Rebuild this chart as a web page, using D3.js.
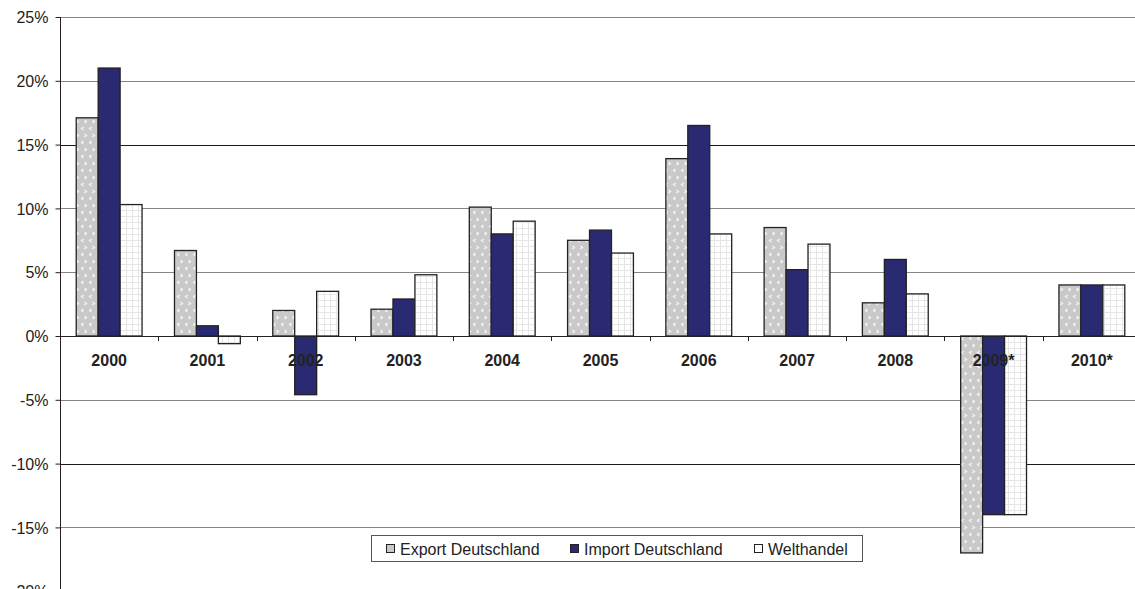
<!DOCTYPE html>
<html><head><meta charset="utf-8">
<script src="https://cdn.jsdelivr.net/npm/d3@7"></script>
<style>html,body{margin:0;padding:0;background:#fff;overflow:hidden}</style>
</head><body>
<svg id="c" width="1135" height="589"></svg>
<script>
const categories = ["2000","2001","2002","2003","2004","2005","2006","2007","2008","2009*","2010*"];
const seriesNames = ["Export Deutschland","Import Deutschland","Welthandel"];
const exportDE = [17.1, 6.7, 2.0, 2.1, 10.1, 7.5, 13.9, 8.5, 2.6, -17.0, 4.0];
const importDE = [21.0, 0.8, -4.6, 2.9, 8.0, 8.3, 16.5, 5.2, 6.0, -14.0, 4.0];
const welthandel = [10.3, -0.6, 3.5, 4.8, 9.0, 6.5, 8.0, 7.2, 3.3, -14.0, 4.0];
const yTicks = [-20,-15,-10,-5,0,5,10,15,20,25];

const series = [exportDE, importDE, welthandel];
const svg = d3.select("#c");
const defs = svg.append("defs");
const FONT = "Liberation Sans, Arial, Helvetica, sans-serif";

// export pattern: light grey with small white chevrons
const p1 = defs.append("pattern").attr("id","pExp").attr("patternUnits","userSpaceOnUse")
  .attr("width",8).attr("height",14);
p1.append("rect").attr("width",8).attr("height",14).attr("fill","#c9c9c9");
p1.append("path").attr("d","M3.5,1 L1.5,2.5 L3.5,4").attr("stroke","#f6f6f6").attr("stroke-width",1.2).attr("fill","none");
p1.append("path").attr("d","M4.5,8 L6.5,9.5 L4.5,11").attr("stroke","#f6f6f6").attr("stroke-width",1.2).attr("fill","none");
// welthandel pattern: white with light grid
const p3 = defs.append("pattern").attr("id","pWelt").attr("patternUnits","userSpaceOnUse")
  .attr("width",6).attr("height",6);
p3.append("rect").attr("width",6).attr("height",6).attr("fill","#ffffff");
p3.append("path").attr("d","M0,0.5 H6 M0.5,0 V6").attr("stroke","#e6e6e6").attr("stroke-width",1);

const fills = ["url(#pExp)","#2a2a72","url(#pWelt)"];
const legendFills = ["#c9c9c9","#2a2a72","#ffffff"];

const x0 = d3.scaleBand().domain(categories).range([60,1141]).paddingInner(0.33).paddingOuter(0.165);
const x1 = d3.scaleBand().domain(d3.range(3)).range([0, x0.bandwidth()]);
const y = d3.scaleLinear().domain([-20,25]).range([591.2,17]);

// gridlines
svg.append("g").selectAll("line").data(yTicks.filter(t=>t!==0)).join("line")
  .attr("x1",60).attr("x2",1135)
  .attr("y1",d=>Math.round(y(d))+0.5).attr("y2",d=>Math.round(y(d))+0.5)
  .attr("stroke",d=> (d===15||d===-10) ? "#1a1a1a" : "#858585").attr("stroke-width",1);

// bars
const g = svg.append("g");
categories.forEach((c,i)=>{
  series.forEach((s,j)=>{
    const v = s[i];
    g.append("rect")
      .attr("x", x0(c)+x1(j))
      .attr("width", x1.bandwidth())
      .attr("y", y(Math.max(0,v)))
      .attr("height", Math.abs(y(v)-y(0)))
      .attr("fill", fills[j])
      .attr("stroke","#222").attr("stroke-width",1.3);
  });
});

// y axis
const yAxis = d3.axisLeft(y).tickValues(yTicks).tickSize(5).tickFormat(d=>d+"%");
const ya = svg.append("g").attr("transform","translate(60.5,0)").call(yAxis);
ya.select(".domain").attr("d","M-0,17V589").attr("stroke","#222");
ya.selectAll(".tick line").attr("stroke","#222");
ya.selectAll(".tick text").attr("x",-12).attr("dy","0.36em")
  .attr("font-family",FONT).attr("font-size",16).attr("fill","#222");

// zero line + category ticks
svg.append("line").attr("x1",60).attr("x2",1135).attr("y1",Math.round(y(0))+0.5).attr("y2",Math.round(y(0))+0.5)
  .attr("stroke","#222").attr("stroke-width",1);
const step = x0.step();
svg.append("g").selectAll("line").data(d3.range(1,12)).join("line")
  .attr("x1",d=>Math.round(60+d*step)+0.5).attr("x2",d=>Math.round(60+d*step)+0.5)
  .attr("y1",y(0)).attr("y2",y(0)+5).attr("stroke","#222");

// category labels
svg.append("g").selectAll("text").data(categories).join("text")
  .attr("x",d=>x0(d)+x0.bandwidth()/2).attr("y",y(0)+30)
  .attr("text-anchor","middle").attr("font-family",FONT)
  .attr("font-weight","bold").attr("font-size",16).attr("fill","#222").text(d=>d);

// legend
const lg = svg.append("g");
lg.append("rect").attr("x",371.5).attr("y",535.5).attr("width",491).attr("height",26)
  .attr("fill","#fff").attr("stroke","#555").attr("stroke-width",1);
const legendX = [386, 570, 754];
seriesNames.forEach((n,j)=>{
  lg.append("rect").attr("x",legendX[j]+0.5).attr("y",544.5).attr("width",8).attr("height",8)
    .attr("fill",legendFills[j]).attr("stroke","#222").attr("stroke-width",1);
  lg.append("text").attr("x",legendX[j]+14).attr("y",554.5)
    .attr("font-family",FONT).attr("font-size",16).attr("fill","#222").text(n);
});
</script>
</body></html>
